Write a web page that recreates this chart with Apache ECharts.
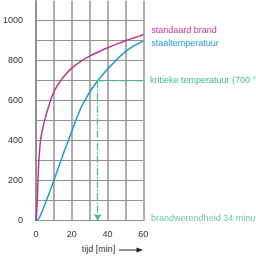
<!DOCTYPE html>
<html><head><meta charset="utf-8">
<script src="https://cdn.jsdelivr.net/npm/echarts@6/dist/echarts.min.js"></script>
<style>html,body{margin:0;padding:0;background:#fff}#c{width:256px;height:256px}</style>
</head><body><div id="c"></div>
<script>
// time [min] / temperature [°C]
var standardTime = [0, 0.3, 0.7, 1.1, 1.6, 2.5, 3.5, 5, 7, 10, 15, 20, 25, 30, 35, 40, 45, 50, 55, 60];
var standardTemp = [0, 30, 100, 200, 300, 400, 450, 508, 570, 645, 715, 763, 797, 823, 845, 865, 883, 900, 915, 930];
var steelTime = [0, 1, 2, 3, 4, 5, 6, 8, 10, 12, 14, 16, 18, 20, 22, 25, 28, 30, 32, 34.5, 37, 40, 45, 50, 55, 60];
var steelTemp = [0, 6, 18, 38, 60, 83, 105, 152, 202, 252, 302, 352, 400, 447, 495, 562, 612, 643, 670, 700, 727, 757, 804, 845, 875, 898];
var criticalTemp = 700;
var fireTime = 34.5;
var criticalLineEnd = 62.9;
var xTickLabels = [0, 20, 40, 60];
var yTickLabels = [0, 200, 400, 600, 800, 1000];
var labels = {
  standard: 'standaard brand',
  steel: 'staaltemperatuur',
  critical: 'kritieke temperatuur (700 °C)',
  resistance: 'brandwerendheid 34 minuten',
  xName: 'tijd [min]'
};

function zip(a, b) { return a.map(function (v, i) { return [v, b[i]]; }); }

var MAG = '#c4358d', BLUE = '#1b9ad3', GREEN = '#3dbd86', GRID = '#929292';
var FONT = 'Liberation Sans, Arial, sans-serif';

var chart = echarts.init(document.getElementById('c'), null, {renderer: 'canvas'});
chart.setOption({
  animation: false,
  textStyle: {fontFamily: FONT},
  grid: {left: 32.7, right: 112.7, top: 0.7, bottom: 35.3, containLabel: false},
  xAxis: {
    type: 'value', min: 0, max: 60, interval: 10,
    axisLine: {show: true, lineStyle: {color: GRID, width: 1.2}},
    axisTick: {show: false},
    splitLine: {show: true, lineStyle: {color: GRID, width: 1.5}},
    axisLabel: {color: '#333', fontSize: 9, fontFamily: FONT, margin: 9,
      formatter: function (v) { return xTickLabels.indexOf(v) >= 0 ? String(v) : ''; }}
  },
  yAxis: {
    type: 'value', min: 0, max: 1100, interval: 100,
    axisLine: {show: true, lineStyle: {color: '#888', width: 1.5}},
    axisTick: {show: false},
    splitLine: {show: true, showMaxLine: false, lineStyle: {color: GRID, width: 1.2}},
    axisLabel: {color: '#333', fontSize: 9, fontFamily: FONT, margin: 13,
      formatter: function (v) { return yTickLabels.indexOf(v) >= 0 ? String(v) : ''; }}
  },
  series: [
    {
      type: 'line', name: labels.standard, data: zip(standardTime, standardTemp),
      smooth: 0.3, showSymbol: false, clip: false,
      lineStyle: {color: MAG, width: 1.5},
      endLabel: {show: true, formatter: labels.standard, color: MAG, fontSize: 9, fontFamily: FONT, distance: 8, offset: [0, -4.5]}
    },
    {
      type: 'line', name: labels.steel, data: zip(steelTime, steelTemp),
      smooth: 0.3, showSymbol: false, clip: false,
      lineStyle: {color: BLUE, width: 1.5},
      endLabel: {show: true, formatter: labels.steel, color: BLUE, fontSize: 9, fontFamily: FONT, distance: 8, offset: [0, 2]},
      markLine: {
        silent: true, symbol: ['none', 'arrow'], symbolSize: [6, 7],
        label: {show: false},
        lineStyle: {color: GREEN, width: 1.2, type: [7, 2, 1.5, 2]},
        data: [[{coord: [fireTime, criticalTemp]}, {coord: [fireTime, 0]}]]
      }
    },
    {
      type: 'line', name: labels.critical, data: [[fireTime, criticalTemp], [criticalLineEnd, criticalTemp]],
      showSymbol: false, clip: false,
      lineStyle: {color: GREEN, width: 1.2, type: [7, 2, 1.5, 2]},
      endLabel: {show: true, formatter: labels.critical, color: GREEN, fontSize: 9, fontFamily: FONT, distance: 5, offset: [0, -0.5]}
    },
    {
      type: 'scatter', data: [[criticalLineEnd, 0]], symbolSize: 0, clip: false,
      label: {show: true, position: 'right', formatter: labels.resistance, color: GREEN, fontSize: 9, fontFamily: FONT, distance: 2.6, offset: [0, -2.5]}
    }
  ],
  graphic: [
    {type: 'text', left: 81.7, top: 245, style: {text: labels.xName, fill: '#333', font: '9px ' + FONT}},
    {type: 'line', shape: {x1: 119, y1: 250, x2: 138, y2: 250}, style: {stroke: '#222', lineWidth: 1}},
    {type: 'polygon', shape: {points: [[136.5, 247.5], [143, 250], [136.5, 252.5]]}, style: {fill: '#222'}}
  ]
});
</script></body></html>
